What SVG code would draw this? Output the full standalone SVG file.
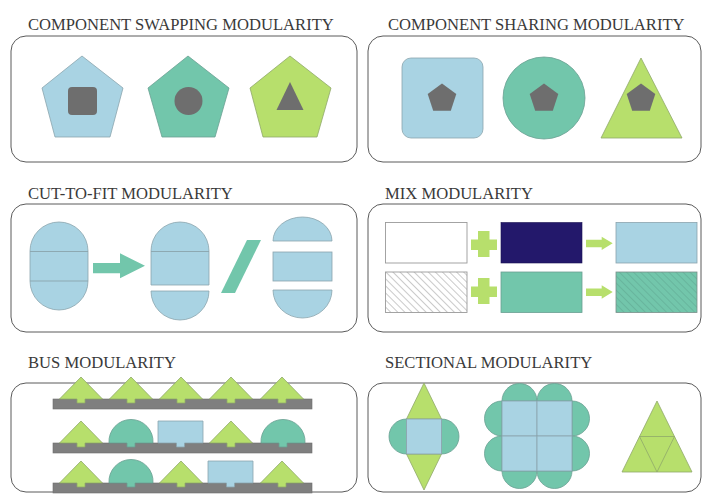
<svg xmlns="http://www.w3.org/2000/svg" width="703" height="494" viewBox="0 0 703 494">
<defs>
<style>
.title{font-family:"Liberation Serif","Times New Roman",serif;font-size:16.6px;fill:#3a3a3a}
.box{fill:none;stroke:#5a5a5a;stroke-width:1}
.blue{fill:#a9d3e3;stroke:#8aa4ad;stroke-width:0.8}
.teal{fill:#72c6ab;stroke:#6a9f92;stroke-width:0.8}
.lime{fill:#b7df6c;stroke:#8fa86a;stroke-width:0.8}
.dark{fill:#6e6e6e}
.bar{fill:#7f7f7f;stroke:#6d6d6d;stroke-width:0.6}
.tealf{fill:#72c6ab}
.limef{fill:#b7df6c}
.line{fill:none;stroke:#8aa4ad;stroke-width:0.9}
</style>
<pattern id="hatchGray" patternUnits="userSpaceOnUse" width="5" height="5" patternTransform="rotate(-45)">
<rect width="5" height="5" fill="#ffffff"/>
<line x1="0" y1="0" x2="0" y2="5" stroke="#7a7a7a" stroke-width="0.8"/>
</pattern>
<pattern id="hatchTeal" patternUnits="userSpaceOnUse" width="5" height="5" patternTransform="rotate(-45)">
<rect width="5" height="5" fill="#72c6ab"/>
<line x1="0" y1="0" x2="0" y2="5" stroke="#5a9a88" stroke-width="0.8"/>
</pattern>
</defs>
<rect width="703" height="494" fill="#ffffff"/>

<!-- Panel 1 -->
<g id="component-swapping">
<text class="title" x="28" y="30">COMPONENT SWAPPING MODULARITY</text>
<rect class="box" x="11" y="36" width="346" height="126" rx="15"/>
<g id="swap-pentagon-blue">
<polygon class="blue" points="82,56 123,88 110,137 55,137 42,88"/>
<rect class="dark" x="68" y="87" width="29" height="28" rx="4"/>
</g>
<g id="swap-pentagon-teal">
<polygon class="teal" points="188,56 229,88 215,137 162,137 148,88"/>
<circle class="dark" cx="188.5" cy="101" r="14"/>
</g>
<g id="swap-pentagon-lime">
<polygon class="lime" points="290,56 331,88 317,137 263,137 250,88"/>
<polygon class="dark" points="290,82 303.5,110 276.5,110"/>
</g>
</g>

<!-- Panel 2 -->
<g id="component-sharing">
<text class="title" x="388" y="30">COMPONENT SHARING MODULARITY</text>
<rect class="box" x="368" y="36" width="333" height="126" rx="15"/>
<g id="share-square">
<rect class="blue" x="402" y="58" width="81" height="80" rx="9"/>
<polygon class="dark" points="442,83.5 456.3,94 450.8,110.8 433.2,110.8 427.7,94"/>
</g>
<g id="share-circle">
<circle class="teal" cx="544" cy="98" r="41"/>
<polygon class="dark" points="544,83.5 558.3,94 552.8,110.8 535.2,110.8 529.7,94"/>
</g>
<g id="share-triangle">
<polygon class="lime" points="641,58 682,138 601,138"/>
<polygon class="dark" points="641,83.5 655.3,94 649.8,110.8 632.2,110.8 626.7,94"/>
</g>
</g>

<!-- Panel 3 -->
<g id="cut-to-fit">
<text class="title" x="28" y="199">CUT-TO-FIT MODULARITY</text>
<rect class="box" x="11" y="204" width="346" height="128" rx="15"/>
<g id="capsule-whole">
<path class="blue" d="M30,251 A29,29 0 0 1 88,251 L88,281 A29,29 0 0 1 30,281 Z"/>
<line class="line" x1="30" y1="251.5" x2="88" y2="251.5"/>
<line class="line" x1="30" y1="281" x2="88" y2="281"/>
</g>
<g id="capsule-cut">
<path class="blue" d="M151,251 A29,29 0 0 1 209,251 L209,285 L151,285 Z"/>
<line class="line" x1="151" y1="251.5" x2="209" y2="251.5"/>
<path class="blue" d="M151,291 L209,291 A29,29 0 0 1 151,291 Z"/>
</g>
<g id="capsule-parts">
<path class="blue" d="M273,241 A29.5,24 0 0 1 332,241 Z"/>
<rect class="blue" x="273" y="252" width="59" height="29"/>
<path class="blue" d="M273,290 L332,290 A29.5,28 0 0 1 273,290 Z"/>
</g>
<polygon id="slash" class="tealf" points="247,240 261,240 235,293 221,293"/>
</g>

<!-- Panel 4 -->
<g id="mix">
<text class="title" x="385" y="199">MIX MODULARITY</text>
<rect class="box" x="368" y="204" width="333" height="128" rx="15"/>
<rect id="mix-white" x="385.5" y="222.5" width="81.5" height="40.5" fill="#ffffff" stroke="#9a9a9a" stroke-width="0.9"/>
<rect id="mix-navy" x="501" y="222.5" width="81" height="40.5" fill="#23186b" stroke="#1a1250" stroke-width="0.6"/>
<rect id="mix-blue" x="616" y="222.5" width="81" height="40.5" class="blue"/>
<rect id="mix-hatch" x="385.5" y="272" width="81.5" height="40.5" fill="url(#hatchGray)" stroke="#9a9a9a" stroke-width="0.9"/>
<rect id="mix-teal" x="501" y="272" width="81" height="40.5" class="teal"/>
<rect id="mix-teal-hatch" x="616" y="272" width="81" height="40.5" fill="url(#hatchTeal)" stroke="#7a8f8a" stroke-width="0.8"/>
<g id="plus-1">
<path class="limef" d="M478,231 H489.5 V239.5 H497 V250 H489.5 V257 H478 V250 H471 V239.5 H478 Z"/>
</g>
<g id="plus-2">
<path class="limef" d="M478,278 H489.5 V286.5 H497 V297 H489.5 V304 H478 V297 H471 V286.5 H478 Z"/>
</g>
</g>

<!-- Panel 5 -->
<g id="bus">
<text class="title" x="28" y="368">BUS MODULARITY</text>
<rect class="box" x="11" y="383" width="346" height="109" rx="15"/>
<g id="bus-row-1">
<rect class="bar" x="53" y="399" width="259" height="10"/>
<path class="lime" d="M59.5,399 L81,377 L102.5,399 H85 V403 H77 V399 Z"/>
<path class="lime" d="M109.5,399 L131,377 L152.5,399 H135 V403 H127 V399 Z"/>
<path class="lime" d="M159.5,399 L181,377 L202.5,399 H185 V403 H177 V399 Z"/>
<path class="lime" d="M209.5,399 L231,377 L252.5,399 H235 V403 H227 V399 Z"/>
<path class="lime" d="M260.5,399 L282,377 L303.5,399 H286 V403 H278 V399 Z"/>
</g>
<g id="bus-row-2">
<rect class="bar" x="53" y="443" width="259" height="10"/>
<path class="lime" d="M59.5,443 L81,421 L102.5,443 H85 V447 H77 V443 Z"/>
<path class="teal" d="M109,443 A22.05,22.05 0 1 1 153,443 H135 V447 H127 V443 Z"/>
<path class="blue" d="M158,443 V421 H203 V443 H184.5 V447 H176.5 V443 Z"/>
<path class="lime" d="M209.5,443 L231,421 L252.5,443 H235 V447 H227 V443 Z"/>
<path class="teal" d="M261,443 A22.05,22.05 0 1 1 305,443 H287 V447 H279 V443 Z"/>
</g>
<g id="bus-row-3">
<rect class="bar" x="53" y="483" width="259" height="10"/>
<path class="lime" d="M59.5,483 L81,461 L102.5,483 H85 V487 H77 V483 Z"/>
<path class="teal" d="M109,483 A22.05,22.05 0 1 1 153,483 H135 V487 H127 V483 Z"/>
<path class="lime" d="M159.5,483 L181,461 L202.5,483 H185 V487 H177 V483 Z"/>
<path class="blue" d="M208,483 V461 H253 V483 H234.5 V487 H226.5 V483 Z"/>
<path class="lime" d="M260.5,483 L282,461 L303.5,483 H286 V487 H278 V483 Z"/>
</g>
</g>

<!-- Panel 6 -->
<g id="sectional">
<text class="title" x="385" y="368">SECTIONAL MODULARITY</text>
<rect class="box" x="368" y="383" width="333" height="109" rx="15"/>
<g id="sect-diamond">
<polygon class="lime" points="406.5,419 424,383 441.5,419"/>
<polygon class="lime" points="406.5,454 424,490 441.5,454"/>
<path class="teal" d="M406.5,419 A17.5,17.5 0 0 0 406.5,454 Z"/>
<path class="teal" d="M441.5,419 A17.5,17.5 0 0 1 441.5,454 Z"/>
<rect class="blue" x="406.5" y="419" width="35" height="35"/>
</g>
<g id="sect-flower">
<path class="teal" d="M502,401 A17.5,17.5 0 0 1 537,401 Z"/>
<path class="teal" d="M537,401 A17.5,17.5 0 0 1 572,401 Z"/>
<path class="teal" d="M502,471 A17.5,17.5 0 0 0 537,471 Z"/>
<path class="teal" d="M537,471 A17.5,17.5 0 0 0 572,471 Z"/>
<path class="teal" d="M502,401 A17.5,17.5 0 0 0 502,436 Z"/>
<path class="teal" d="M502,436 A17.5,17.5 0 0 0 502,471 Z"/>
<path class="teal" d="M572,401 A17.5,17.5 0 0 1 572,436 Z"/>
<path class="teal" d="M572,436 A17.5,17.5 0 0 1 572,471 Z"/>
<rect class="blue" x="502" y="401" width="35" height="35"/>
<rect class="blue" x="537" y="401" width="35" height="35"/>
<rect class="blue" x="502" y="436" width="35" height="35"/>
<rect class="blue" x="537" y="436" width="35" height="35"/>
</g>
<g id="sect-triangle">
<polygon class="lime" points="657,401 692,472 622,472"/>
<polygon fill="none" stroke="#8fa86a" stroke-width="0.8" points="639.5,436.5 674.5,436.5 657,472"/>
</g>
</g>

<!-- Connectors -->
<g id="connectors">
<path id="arrow-cut" class="tealf" d="M93,263 H120 V253.3 L145,265.8 L120,278.3 V273.3 H93 Z"/>
<path id="arrow-mix-1" class="limef" d="M586,239.8 H601.7 V236.7 L612.7,243.3 L601.7,250 V247.3 H586 Z"/>
<path id="arrow-mix-2" class="limef" d="M586,288.5 H601.7 V285.3 L612.7,292 L601.7,298.7 V296 H586 Z"/>
</g>
</svg>
